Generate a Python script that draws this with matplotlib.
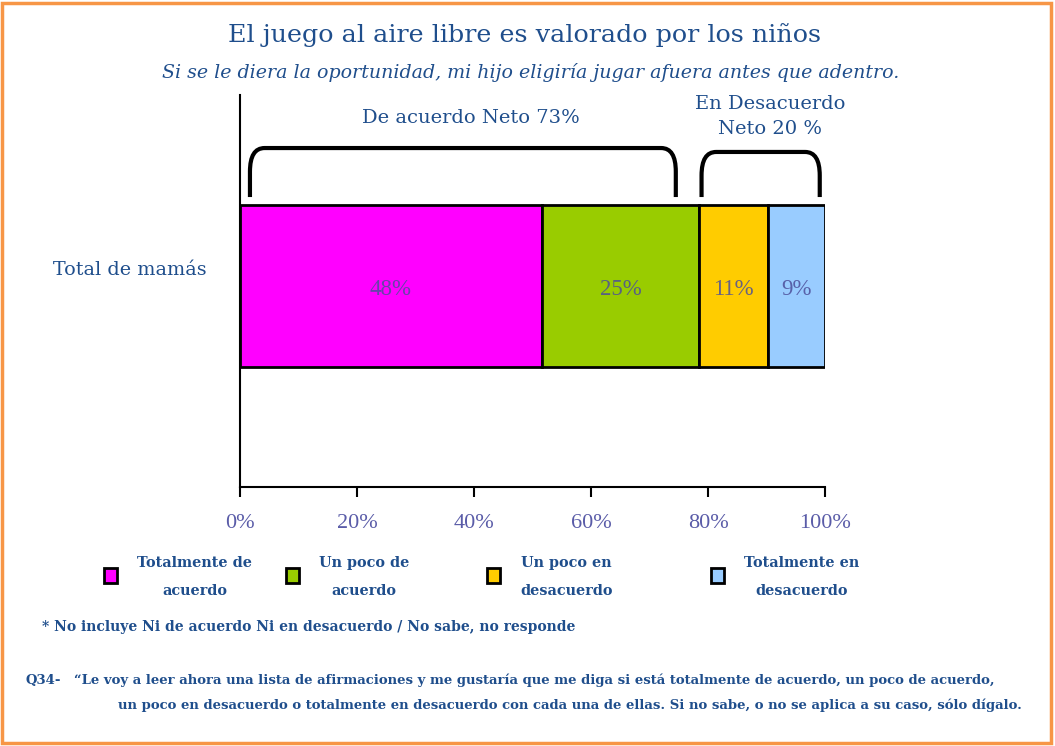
import numpy as np
import matplotlib
matplotlib.use("Agg")
import matplotlib.pyplot as plt
from matplotlib.patches import Rectangle
from matplotlib.path import Path as MPath
from matplotlib.patches import PathPatch

# data
categories = ["Totalmente de\nacuerdo", "Un poco de\nacuerdo", "Un poco en\ndesacuerdo", "Totalmente en\ndesacuerdo"]
values = [48, 25, 11, 9]
colors = ["#ff00ff", "#99cc00", "#ffcc00", "#99ccff"]
row_label = "Total de mamás"
xticks = [0, 20, 40, 60, 80, 100]

navy = "#1f4e8c"
tickc = "#5a5ca8"

fig = plt.figure(figsize=(10.55, 7.46), dpi=100)
fig.patches.append(Rectangle((0.002, 0.004), 0.994, 0.992, transform=fig.transFigure,
                             fill=False, edgecolor="#f79646", linewidth=2.5))

ax = fig.add_axes([0.2275, 0.347, 0.5545, 0.5255])
total = sum(values)
widths = [v / total * 100 for v in values]
lefts = np.concatenate([[0], np.cumsum(widths)[:-1]])
bar_y, bar_h = 0.513, 0.413
ax.barh(bar_y, widths, left=lefts, height=bar_h, color=colors, edgecolor="black", linewidth=2)
for l, w, v in zip(lefts, widths, values):
    ax.text(l + w / 2, bar_y - 0.01, f"{v}%", ha="center", va="center", fontsize=16.5,
            family="Liberation Serif", color="#4d4f9a", alpha=0.85)

ax.set_xlim(0, 100)
ax.set_ylim(0, 1)
ax.set_xticks(xticks)
ax.set_xticklabels([f"{t}%" for t in xticks], family="Liberation Serif", fontsize=16, color=tickc)
ax.set_yticks([])
ax.tick_params(axis="x", length=7, width=1.5, pad=12)
for s in ["top", "right"]:
    ax.spines[s].set_visible(False)
ax.spines["left"].set_linewidth(1.5)
ax.spines["bottom"].set_linewidth(1.5)


def brace(x0, x1, y0, y1, r=2.5):
    rx, ry = r, 0.06
    verts = [(x0, y0), (x0, y1 - ry), (x0, y1), (x0 + rx, y1), (x1 - rx, y1),
             (x1, y1), (x1, y1 - ry), (x1, y0)]
    codes = [MPath.MOVETO, MPath.LINETO, MPath.CURVE3, MPath.CURVE3, MPath.LINETO,
             MPath.CURVE3, MPath.CURVE3, MPath.LINETO]
    ax.add_patch(PathPatch(MPath(verts, codes), fill=False, lw=3, edgecolor="black",
                           clip_on=False, capstyle="butt"))


agree = values[0] + values[1]
disagree = values[2] + values[3]
cum = np.cumsum(widths)
brace(1.7, cum[1] - 4, 0.74, 0.865)
brace(cum[1] + 0.4, 99.1, 0.74, 0.855)
ax.text(39.5, 0.941, f"De acuerdo Neto {agree}%", ha="center", va="center",
        fontsize=14, family="DejaVu Serif", color=navy, clip_on=False)
ax.text(90.6, 0.945, f"En Desacuerdo\nNeto {disagree} %", ha="center", va="center",
        fontsize=14, family="DejaVu Serif", color=navy, linespacing=1.5, clip_on=False)

fig.text(0.05, 1 - 270 / 746, row_label, ha="left", va="center", fontsize=13.8,
         family="DejaVu Serif", color=navy)

fig.text(0.497, 1 - 35 / 746, "El juego al aire libre es valorado por los niños",
         ha="center", va="center", fontsize=18.3, family="DejaVu Serif", color=navy)
fig.text(0.503, 1 - 73 / 746,
         "Si se le diera la oportunidad, mi hijo eligiría jugar afuera antes que adentro.",
         ha="center", va="center", fontsize=13.7, family="DejaVu Serif", style="italic", color=navy)

# legend
leg_x = [104, 286, 487, 711]
small = dict(family="DejaVu Serif", weight="bold", color=navy)
for x, c, lab in zip(leg_x, colors, categories):
    fig.patches.append(Rectangle((x / 1055, 1 - 583 / 746), 13 / 1055, 15 / 746,
                                 transform=fig.transFigure, facecolor=c,
                                 edgecolor="black", linewidth=2))
    fig.text((x + 33) / 1055, 1 - 577 / 746, lab, ha="left", va="center", fontsize=10.4,
             linespacing=2.3, multialignment="center", **small)

fig.text(42 / 1055, 1 - 627 / 746,
         "* No incluye Ni de acuerdo Ni en desacuerdo / No sabe, no responde",
         ha="left", va="center", fontsize=10, **small)
fig.text(26 / 1055, 1 - 680 / 746, "Q34-", ha="left", va="center", fontsize=9.5, **small)
fig.text(74 / 1055, 1 - 680 / 746,
         "\u201cLe voy a leer ahora una lista de afirmaciones y me gustaría que me diga si está totalmente de acuerdo, un poco de acuerdo,",
         ha="left", va="center", fontsize=9.5, **small)
fig.text(118 / 1055, 1 - 705 / 746,
         "un poco en desacuerdo o totalmente en desacuerdo con cada una de ellas. Si no sabe, o no se aplica a su caso, sólo dígalo.",
         ha="left", va="center", fontsize=9.5, **small)

fig.savefig("out.png", dpi=100)
